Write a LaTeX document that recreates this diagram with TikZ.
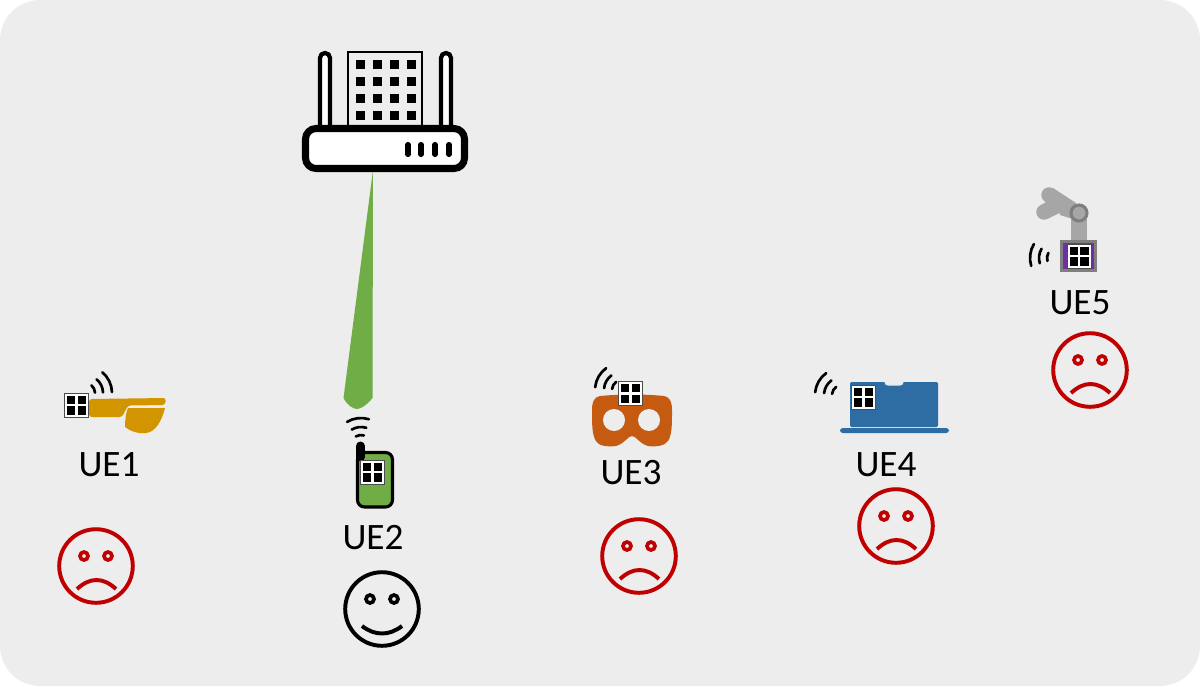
\documentclass[tikz,border=0pt]{standalone}
\usepackage{fontspec}
\setmainfont{Carlito}
\usetikzlibrary{positioning}

\definecolor{panelgray}{HTML}{EDEDED}
\definecolor{beamgreen}{HTML}{70AD47}
\definecolor{glassorange}{HTML}{D29500}
\definecolor{maskorange}{HTML}{C55A11}
\definecolor{laptopblue}{HTML}{2E6CA4}
\definecolor{armgray}{HTML}{A6A6A6}
\definecolor{basegray}{HTML}{7F7F7F}
\definecolor{basepurple}{HTML}{7030A0}
\definecolor{sadred}{HTML}{C00000}

\tikzset{
  uelabel/.style={font=\fontsize{26.5}{30}\selectfont, inner sep=0pt},
  waveline/.style={line width=1.9pt, line cap=round, black},
  armline/.style={line width=11pt, line cap=round, line join=round, armgray},
  pics/chip/.style={code={
    \draw[fill=white, draw=black!70, line width=0.7pt] (-12,-12) rectangle (12,12);
    \foreach \dx in {-1,1} \foreach \dy in {-1,1}
      \fill[black] ({\dx*5.3-4.2},{\dy*5.3-4.2}) rectangle ++(8.4,8.4);
  }},
  pics/face/.style={code={
    \draw[#1, line width=2.8pt] (0,0) circle (36.8);
    \draw[#1, line width=2.6pt] (-12,-10) circle (4);
    \draw[#1, line width=2.6pt] (12,-10) circle (4);
  }}
}

\newcommand{\signal}[3]{
  \foreach \r in {10,18,27}
    \draw[waveline] (#1,#2) ++(#3-24:\r) arc (#3-24:#3+24:\r);
}

\begin{document}
\begin{tikzpicture}[x=0.025cm, y=-0.025cm]
    \useasboundingbox (0,0) rectangle (1200,686);
    \fill[panelgray, rounded corners=1cm] (0,0) rectangle (1200,686);

    \fill[beamgreen] (373,170) -- (372.5,398) .. controls (366,406) and (360,409) .. (357,409)
        .. controls (353,409) and (347,405) .. (343.5,398) -- cycle;

    \draw[black, line width=1.1pt] (348,52) rectangle (422,126);
    \foreach \xb in {360,377,394,411} \foreach \yb in {64,81,98,115}
      \fill[black] ({\xb-4.5},{\yb-4.5}) rectangle ++(9,9);
    \draw[black, fill=white, line width=3pt, rounded corners=3.5pt] (320,132) -- (320,53) -- (330,53) -- (330,132);
    \draw[black, fill=white, line width=3pt, rounded corners=3.5pt] (441,132) -- (441,53) -- (451,53) -- (451,132);
    \draw[black, fill=white, line width=5pt, rounded corners=7.5pt] (305.5,128.5) rectangle (464.5,168.5);
    \foreach \xd in {408,421,435,449}
      \draw[black, line width=3.6pt, line cap=round] (\xd,144.5) -- (\xd,154.5);

    \fill[glassorange, rounded corners=2pt] (89,399) -- (166,398) -- (165,405) -- (128,405.5) -- (122,417) -- (89,417) -- cycle;
    \fill[glassorange] (128,408) -- (165,408) .. controls (162,420) and (156,432) .. (146,433)
        .. controls (138,434) and (130,431) .. (125,427) .. controls (125,420) and (126,412) .. (128,408) -- cycle;
    \pic at (76.5,405) {chip};
    \signal{85}{393}{-26}
    \node[uelabel] (ue1) at (109,465) {UE1};
    \pic at (96,566) {face=sadred};
    \draw[sadred, line width=2.8pt] (77,589) .. controls (90,577) and (103,577) .. (116,589);

    \draw[black, fill=beamgreen, line width=2.2pt, rounded corners=5pt] (357.5,452.5) rectangle (392.5,507);
    \draw[black, line width=6.4pt, line cap=round] (360.5,446) -- (360.5,457);
    \pic at (372.5,472) {chip};
    \signal{361}{445}{-97}
    \node[uelabel] (ue2) at (373,538) {UE2};
    \pic at (382,609) {face=black};
    \draw[black, line width=2.8pt] (362,626) .. controls (375,636) and (389,636) .. (402,626);

    \fill[maskorange] (600,396) .. controls (620,394) and (645,394) .. (664,396)
        .. controls (670,397) and (672,402) .. (672,410) .. controls (672,425) and (672,435) .. (668,441)
        .. controls (665,446) and (655,447) .. (648,446) .. controls (640,444) and (636,436) .. (632,436)
        .. controls (628,436) and (624,444) .. (616,446) .. controls (608,447) and (598,446) .. (596,441)
        .. controls (592,435) and (592,425) .. (592,410) .. controls (592,402) and (594,397) .. (600,396) -- cycle;
    \fill[panelgray] (614,420) circle (11);
    \fill[panelgray] (649,420) circle (11);
    \pic at (630.5,393.5) {chip};
    \signal{622}{390}{-150}
    \node[uelabel] (ue3) at (631,473) {UE3};
    \pic at (639,556) {face=sadred};
    \draw[sadred, line width=2.8pt] (620,579) .. controls (633,567) and (646,567) .. (659,579);

    \fill[laptopblue, rounded corners=1pt] (850,382) rectangle (938,427);
    \draw[white!85!laptopblue, fill=panelgray, line width=0.7pt, rounded corners=2pt] (885,381.5) -- (885,385) -- (903,385) -- (903,381.5);
    \fill[laptopblue, rounded corners=2pt] (840,428) rectangle (949,433);
    \pic at (863.5,397) {chip};
    \signal{842}{395}{-150}
    \node[uelabel] (ue4) at (886,465) {UE4};
    \pic at (896,526) {face=sadred};
    \draw[sadred, line width=2.8pt] (877,549) .. controls (890,537) and (903,537) .. (916,549);

    \draw[armline] (1049,195) -- (1060,204) -- (1044,212);
    \fill[armgray] (1053,188) -- (1076,203) -- (1076,220) -- (1060,215) -- cycle;
    \fill[armgray] (1071,218) rectangle (1087,241);
    \draw[basegray, fill=armgray, line width=2.2pt] (1079,213) circle (8);
    \draw[basegray, fill=basepurple, line width=2.2pt] (1061.5,241.5) rectangle (1095.5,270.5);
    \pic at (1079,256) {chip};
    \signal{1057}{258}{-173}
    \node[uelabel] (ue5) at (1080,303) {UE5};
    \pic at (1090,370) {face=sadred};
    \draw[sadred, line width=2.8pt] (1071,393) .. controls (1084,381) and (1097,381) .. (1110,393);
\end{tikzpicture}
\end{document}
